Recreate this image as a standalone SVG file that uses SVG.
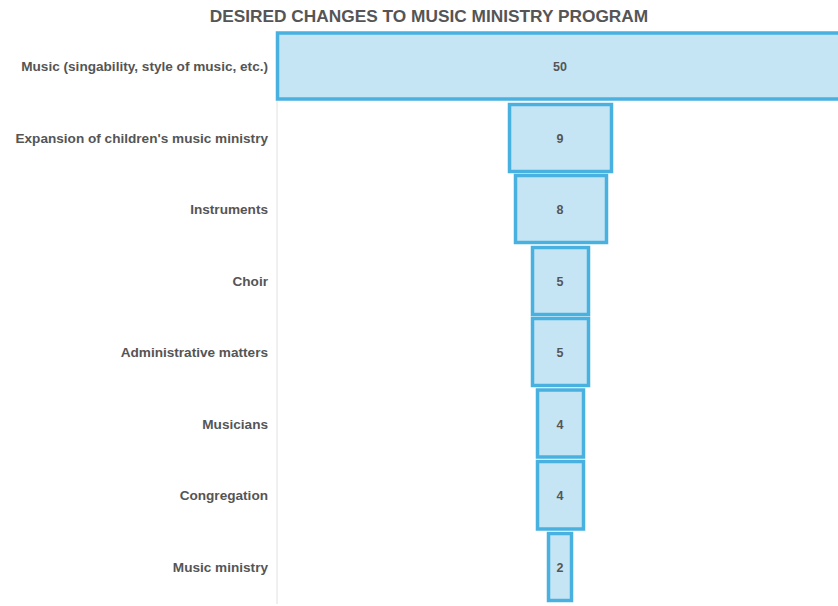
<svg xmlns="http://www.w3.org/2000/svg" width="838" height="606" viewBox="0 0 838 606">
<style>
.bar{fill:#c5e5f5;stroke:#48b1e0;stroke-width:3.5}
.lbl{font-family:"Liberation Sans",Arial,sans-serif;font-weight:bold;font-size:13.6px;fill:#555;text-anchor:end}
.val{font-family:"Liberation Sans",Arial,sans-serif;font-weight:bold;font-size:12.5px;fill:#555;text-anchor:middle}
.title{font-family:"Liberation Sans",Arial,sans-serif;font-weight:bold;font-size:17.3px;fill:#555;text-anchor:middle}
</style>
<rect width="838" height="606" fill="#fff"/>
<text class="title" x="429" y="22">DESIRED CHANGES TO MUSIC MINISTRY PROGRAM</text>
<g id="connectors">
<line x1="277" y1="32" x2="277" y2="604" stroke="#e0e0e0" stroke-width="1"/>
</g>
<g id="row1"><rect class="bar" x="277.5" y="33" width="564" height="66"/><text class="lbl" x="268" y="71">Music (singability, style of music, etc.)</text><text class="val" x="560" y="71">50</text></g>
<g id="row2"><rect class="bar" x="509.5" y="104.5" width="102" height="67"/><text class="lbl" x="268" y="143">Expansion of children's music ministry</text><text class="val" x="560" y="143">9</text></g>
<g id="row3"><rect class="bar" x="515.5" y="175.5" width="91" height="67"/><text class="lbl" x="268" y="214">Instruments</text><text class="val" x="560" y="214">8</text></g>
<g id="row4"><rect class="bar" x="532.5" y="247.5" width="56" height="67"/><text class="lbl" x="268" y="286">Choir</text><text class="val" x="560" y="286">5</text></g>
<g id="row5"><rect class="bar" x="532.5" y="318.5" width="56" height="67"/><text class="lbl" x="268" y="357">Administrative matters</text><text class="val" x="560" y="357">5</text></g>
<g id="row6"><rect class="bar" x="537.5" y="390" width="46" height="67"/><text class="lbl" x="268" y="429">Musicians</text><text class="val" x="560" y="429">4</text></g>
<g id="row7"><rect class="bar" x="537.5" y="461.5" width="46" height="67.5"/><text class="lbl" x="268" y="500">Congregation</text><text class="val" x="560" y="500">4</text></g>
<g id="row8"><rect class="bar" x="548.5" y="533.5" width="23" height="67"/><text class="lbl" x="268" y="572">Music ministry</text><text class="val" x="560" y="572">2</text></g>
</svg>
